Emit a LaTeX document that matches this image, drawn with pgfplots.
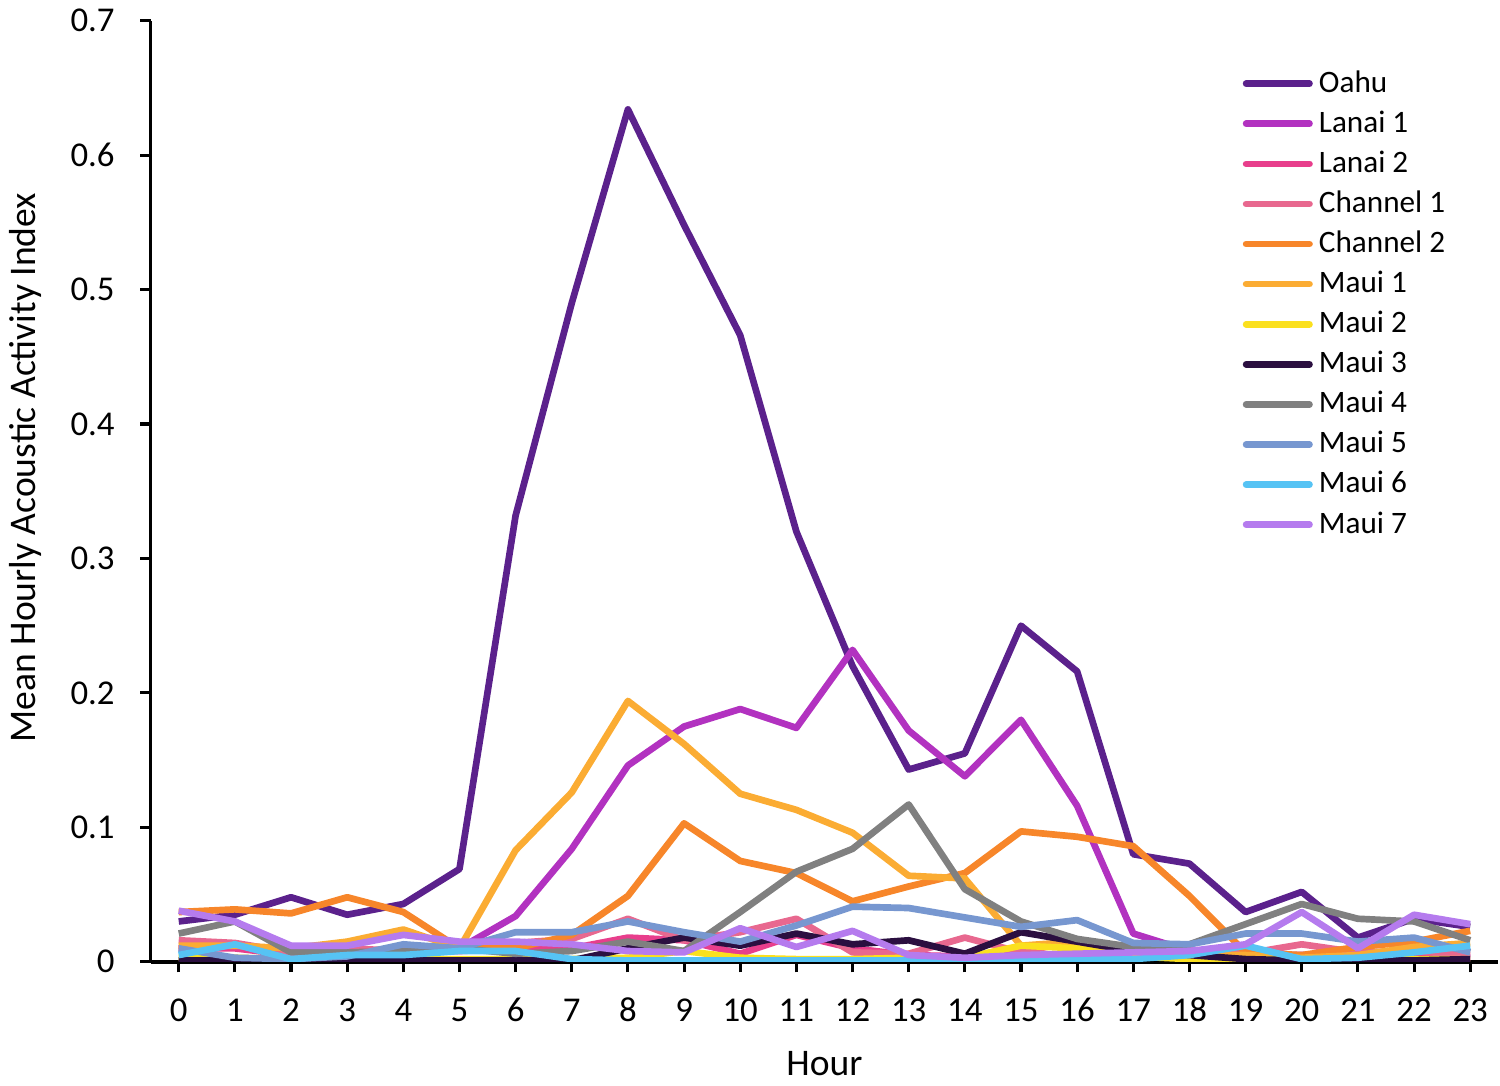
\documentclass[border=0pt]{standalone}
\usepackage{fontspec}
\setmainfont{Carlito}
\usepackage{pgfplots}
\usepackage{pgfplotstable}
\pgfplotsset{compat=1.18}
\definecolor{cOahu}{RGB}{91,33,140}
\definecolor{cLanaiA}{RGB}{178,50,192}
\definecolor{cLanaiB}{RGB}{232,62,140}
\definecolor{cChanA}{RGB}{232,104,143}
\definecolor{cChanB}{RGB}{247,134,42}
\definecolor{cMauiA}{RGB}{251,172,51}
\definecolor{cMauiB}{RGB}{251,224,30}
\definecolor{cMauiC}{RGB}{43,15,64}
\definecolor{cMauiD}{RGB}{128,128,128}
\definecolor{cMauiE}{RGB}{119,151,208}
\definecolor{cMauiF}{RGB}{86,195,244}
\definecolor{cMauiG}{RGB}{181,123,238}
\pgfplotstableread{
h  oahu  lanaiA lanaiB chanA chanB mauiA mauiB mauiC mauiD mauiE mauiF mauiG
0  0.030 0.010 0.010 0.016 0.037 0.012 0.003 0.001 0.021 0.010 0.005 0.038
1  0.035 0.012 0.010 0.014 0.039 0.012 0.003 0.001 0.030 0.003 0.013 0.030
2  0.048 0.005 0.005 0.007 0.036 0.010 0.002 0.001 0.007 0.002 0.002 0.012
3  0.035 0.008 0.008 0.010 0.048 0.015 0.002 0.001 0.007 0.004 0.005 0.012
4  0.043 0.008 0.008 0.008 0.037 0.024 0.002 0.001 0.008 0.013 0.005 0.020
5  0.069 0.010 0.008 0.010 0.010 0.010 0.002 0.001 0.010 0.010 0.008 0.015
6  0.332 0.034 0.010 0.014 0.010 0.083 0.002 0.001 0.006 0.022 0.008 0.015
7  0.490 0.084 0.010 0.017 0.020 0.126 0.002 0.001 0.008 0.022 0.002 0.013
8  0.634 0.146 0.018 0.032 0.049 0.194 0.003 0.010 0.015 0.030 0.001 0.008
9  0.548 0.175 0.016 0.016 0.103 0.162 0.008 0.018 0.008 0.022 0.001 0.007
10 0.466 0.188 0.006 0.022 0.075 0.125 0.003 0.012 0.037 0.015 0.001 0.025
11 0.320 0.174 0.020 0.032 0.066 0.113 0.002 0.021 0.067 0.027 0.001 0.011
12 0.220 0.232 0.010 0.007 0.045 0.096 0.002 0.013 0.084 0.041 0.001 0.023
13 0.143 0.172 0.005 0.006 0.056 0.064 0.003 0.016 0.117 0.040 0.001 0.005
14 0.155 0.138 0.004 0.018 0.066 0.062 0.003 0.006 0.054 0.033 0.001 0.003
15 0.250 0.180 0.005 0.007 0.097 0.012 0.012 0.022 0.030 0.026 0.001 0.005
16 0.216 0.116 0.005 0.016 0.093 0.015 0.010 0.015 0.017 0.031 0.002 0.006
17 0.080 0.021 0.005 0.008 0.086 0.006 0.004 0.008 0.011 0.014 0.002 0.007
18 0.073 0.008 0.004 0.009 0.049 0.005 0.002 0.005 0.013 0.013 0.005 0.008
19 0.037 0.005 0.003 0.006 0.007 0.005 0.002 0.002 0.028 0.021 0.012 0.013
20 0.052 0.005 0.003 0.013 0.005 0.003 0.002 0.001 0.043 0.021 0.002 0.037
21 0.018 0.005 0.003 0.007 0.011 0.005 0.002 0.001 0.032 0.015 0.003 0.010
22 0.032 0.005 0.003 0.008 0.015 0.011 0.002 0.001 0.030 0.018 0.007 0.035
23 0.026 0.003 0.003 0.005 0.023 0.014 0.002 0.002 0.016 0.007 0.012 0.028
}\data
\begin{document}
\begin{tikzpicture}
\begin{axis}[
  scale only axis,
  width=484pt, height=338pt,
  xmin=-0.5, xmax=23.5,
  ymin=0, ymax=0.7,
  axis lines=left,
  axis line style={-, line width=1.25pt, black},
  xtick={0,...,23},
  ytick={0,0.1,...,0.7},
  tick align=outside,
  major tick length=3.8pt,
  tick style={line width=1.1pt, black},
  /pgf/number format/assume math mode=true,
  yticklabel style={/pgf/number format/fixed, /pgf/number format/precision=1, xshift=-5.6pt},
  xticklabel style={anchor=base, yshift=-17.6pt},
  ticklabel style={font=\fontsize{12.5}{14}\selectfont},
  xlabel={Hour},
  ylabel={Mean Hourly Acoustic Activity Index},
  xlabel style={at={([yshift=-36.7pt]axis description cs:0.5,0)}, anchor=center},
  ylabel style={at={([xshift=-45pt]axis description cs:0,0.525)}, anchor=center},
  label style={font=\fontsize{13.5}{15}\selectfont},
  every axis plot/.append style={line width=2.4pt, line join=round, mark=none},
  legend cell align=left,
  legend image code/.code={\draw[#1, line cap=round] (0cm,0cm) -- (0.8cm,0cm);},
  legend style={draw=none, fill=none, at={(0.81,0.955)}, anchor=north west,
    inner sep=0pt, row sep=0pt,
    font=\fontsize{11.2}{13}\selectfont,
    nodes={text height=8pt, text depth=2pt, inner sep=2.2pt}},
]
\addplot[cOahu] table[x=h,y=oahu]{\data};
\addlegendentry{Oahu}
\addplot[cLanaiA] table[x=h,y=lanaiA]{\data};
\addlegendentry{Lanai 1}
\addplot[cLanaiB] table[x=h,y=lanaiB]{\data};
\addlegendentry{Lanai 2}
\addplot[cChanA] table[x=h,y=chanA]{\data};
\addlegendentry{Channel 1}
\addplot[cChanB] table[x=h,y=chanB]{\data};
\addlegendentry{Channel 2}
\addplot[cMauiA] table[x=h,y=mauiA]{\data};
\addlegendentry{Maui 1}
\addplot[cMauiB] table[x=h,y=mauiB]{\data};
\addlegendentry{Maui 2}
\addplot[cMauiC] table[x=h,y=mauiC]{\data};
\addlegendentry{Maui 3}
\addplot[cMauiD] table[x=h,y=mauiD]{\data};
\addlegendentry{Maui 4}
\addplot[cMauiE] table[x=h,y=mauiE]{\data};
\addlegendentry{Maui 5}
\addplot[cMauiF] table[x=h,y=mauiF]{\data};
\addlegendentry{Maui 6}
\addplot[cMauiG] table[x=h,y=mauiG]{\data};
\addlegendentry{Maui 7}
\end{axis}
\end{tikzpicture}
\end{document}
